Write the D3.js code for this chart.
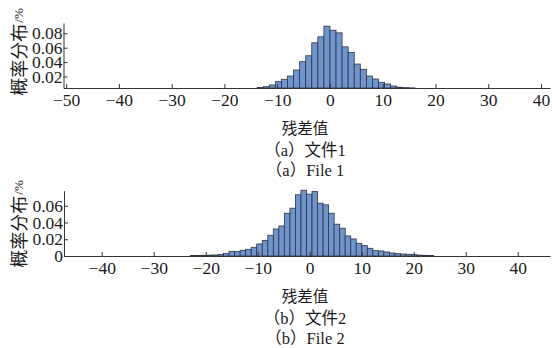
<!DOCTYPE html>
<html>
<head>
<meta charset="utf-8">
<script src="https://cdn.jsdelivr.net/npm/d3@7"></script>
<style>
body { margin: 0; background: #fff; }
svg { display: block; }
</style>
</head>
<body>
<div id="chart"></div>
<script>
// File 1 histogram: bin left edges and probability density
var file1BinWidth = 1.15;
var file1BinStarts = [-13.8, -12.65, -11.5, -10.35, -9.2, -8.05, -6.9, -5.75, -4.6, -3.45, -2.3, -1.15,
                      0, 1.15, 2.3, 3.45, 4.6, 5.75, 6.9, 8.05, 9.2, 10.35, 11.5, 12.65, 13.8, 14.95];
var file1Values = [0.0048, 0.0058, 0.0082, 0.0128, 0.016, 0.0206, 0.029, 0.0405, 0.0488, 0.0668, 0.0751, 0.0899,
                   0.0843, 0.0806, 0.0612, 0.0535, 0.0373, 0.0299, 0.0206, 0.0165, 0.0119, 0.0096, 0.0068, 0.005, 0.0045, 0.0042];

// File 2 histogram
var file2BinWidth = 1.063;
var file2BinStarts = [-22.95, -21.88, -20.82, -19.76, -18.69, -17.63, -16.57, -15.51, -14.44, -13.38, -12.32, -11.25,
                      -10.19, -9.13, -8.06, -7.0, -5.94, -4.88, -3.81, -2.75, -1.69, -0.62, 0.44, 1.5, 2.57, 3.63,
                      4.69, 5.76, 6.82, 7.88, 8.94, 10.01, 11.07, 12.13, 13.2, 14.26, 15.32, 16.39, 17.45, 18.51,
                      19.57, 20.64, 21.7, 22.76];
var file2Values = [0.0005, 0.0006, 0.0008, 0.001, 0.0012, 0.002, 0.0032, 0.0056, 0.0052, 0.0068, 0.008, 0.0104,
                   0.0144, 0.0184, 0.0248, 0.0323, 0.0359, 0.0511, 0.0571, 0.0731, 0.0786, 0.0739, 0.077, 0.0631,
                   0.0611, 0.0511, 0.038, 0.0332, 0.024, 0.0204, 0.0152, 0.0124, 0.0092, 0.0064, 0.006, 0.0048,
                   0.0036, 0.0028, 0.0024, 0.002, 0.0016, 0.001, 0.0008, 0.0005];

var file1XTicks = [-50, -40, -30, -20, -10, 0, 10, 20, 30, 40];
var file2XTicks = [-40, -30, -20, -10, 0, 10, 20, 30, 40];
var file1YTicks = [0.02, 0.04, 0.06, 0.08];
var file1YTickLabels = ["0.02", "0.04", "0.06", "0.08"];
var file2YTicks = [0, 0.02, 0.04, 0.06];
var file2YTickLabels = ["0", "0.02", "0.04", "0.06"];

var yTitle = "概率分布";
var yUnit = "/%";
var xTitle = "残差值";
var captions = [["（a）文件1", "（a）File 1"], ["（b）文件2", "（b）File 2"]];

var W = 552, H = 348;
var serif = "'Liberation Serif', 'Times New Roman', serif";
var cjk = "'Liberation Serif', 'Noto Sans CJK SC', serif";

var svg = d3.select("#chart").append("svg")
  .attr("width", W).attr("height", H)
  .style("background", "#fff");

function panel(opt) {
  var x = d3.scaleLinear().domain(opt.xDomain).range([opt.left, opt.right]);
  var y = d3.scaleLinear().domain(opt.yDomain).range([opt.base, opt.top]);
  var g = svg.append("g");

  var bars = opt.starts.map(function(s, i) { return {x0: s, x1: s + opt.binWidth, v: opt.values[i]}; });

  g.selectAll("rect.bar")
    .data(bars.filter(function(d) { return d.v > opt.yDomain[0]; }))
    .enter()
    .append("rect")
    .attr("class", "bar")
    .attr("x", function(d) { return x(d.x0); })
    .attr("y", function(d) { return y(d.v); })
    .attr("width", function(d) { return x(d.x1) - x(d.x0); })
    .attr("height", function(d) { return opt.base - y(d.v); })
    .attr("fill", "#7094cd")
    .attr("stroke", "#2e3440")
    .attr("stroke-width", 0.8);

  var xAxis = g.append("g")
    .attr("transform", "translate(0," + opt.base + ")")
    .call(d3.axisBottom(x).tickValues(opt.xTicks).tickSizeInner(-4).tickSizeOuter(0).tickPadding(6));

  var yAxis = g.append("g")
    .attr("transform", "translate(" + opt.left + ",0)")
    .call(d3.axisLeft(y).tickValues(opt.yTicks)
      .tickFormat(function(d, i) { return opt.yTickLabels[i]; })
      .tickSizeInner(-4).tickSizeOuter(0).tickPadding(1));

  [xAxis, yAxis].forEach(function(a) {
    a.attr("font-family", null).attr("font-size", null);
    a.selectAll("path, line").attr("stroke", "#333").attr("stroke-width", 1);
    a.selectAll("text").attr("fill", "#1a1a1a").style("font-family", serif).style("font-size", "17.5px");
  });

  // y title, rotated
  var yt = g.append("text")
    .attr("transform", "translate(18," + opt.yTitleMid + ") rotate(-90)")
    .attr("text-anchor", "middle")
    .attr("dominant-baseline", "central")
    .attr("fill", "#1a1a1a");
  yt.append("tspan").style("font-family", "'Noto Sans CJK SC', sans-serif").style("font-size", "18px").text(yTitle);
  yt.append("tspan").style("font-family", serif).style("font-size", "13px").attr("dx", 1).text(yUnit);

  var cx = 305;
  g.append("text")
    .attr("x", cx).attr("y", opt.base + 39)
    .attr("text-anchor", "middle").attr("dominant-baseline", "central")
    .style("font-family", "'Noto Sans CJK SC', sans-serif").style("font-size", "15.5px")
    .attr("fill", "#1a1a1a").text(xTitle);
  g.append("text")
    .attr("x", cx).attr("y", opt.base + 62)
    .attr("text-anchor", "middle").attr("dominant-baseline", "central")
    .style("font-family", cjk).style("font-size", "16.5px")
    .attr("fill", "#1a1a1a").text(opt.caption[0]);
  g.append("text")
    .attr("x", cx).attr("y", opt.base + 82)
    .attr("text-anchor", "middle").attr("dominant-baseline", "central")
    .style("font-family", cjk).style("font-size", "16.5px")
    .attr("fill", "#1a1a1a").text(opt.caption[1]);
}

panel({
  starts: file1BinStarts, values: file1Values, binWidth: file1BinWidth,
  xDomain: [-50.5, 41.7], yDomain: [0.004, 0.0943],
  left: 63.5, right: 550, base: 88, top: 23,
  xTicks: file1XTicks, yTicks: file1YTicks, yTickLabels: file1YTickLabels,
  yTitleMid: 52, caption: captions[0]
});

panel({
  starts: file2BinStarts, values: file2Values, binWidth: file2BinWidth,
  xDomain: [-47.25, 46.2], yDomain: [0, 0.078],
  left: 64, right: 550, base: 256, top: 190.7,
  xTicks: file2XTicks, yTicks: file2YTicks, yTickLabels: file2YTickLabels,
  yTitleMid: 224, caption: captions[1]
});
</script>
</body>
</html>
